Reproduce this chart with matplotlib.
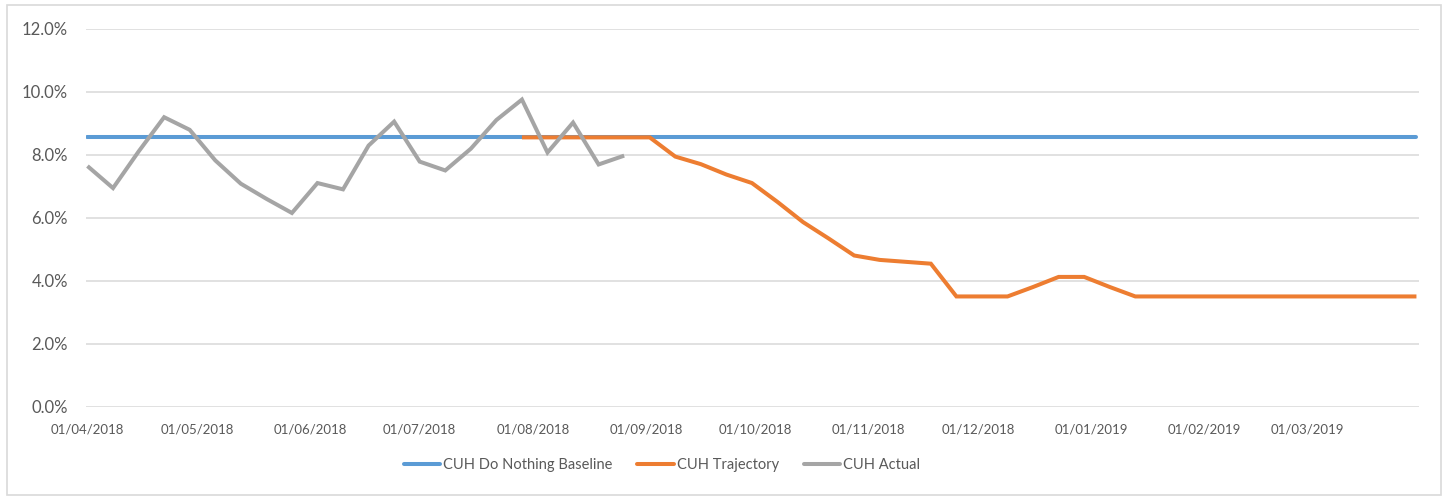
import matplotlib
matplotlib.use("Agg")
import matplotlib.pyplot as plt
import matplotlib.dates as mdates
from matplotlib.patches import Rectangle
import pandas as pd
import numpy as np

# ---- data ----
start_date = "2018-04-01"
n_weeks = 53
baseline = [8.55] * n_weeks
actual = [7.64, 6.94, 8.10, 9.19, 8.79, 7.82, 7.08, 6.60, 6.15, 7.10,
          6.90, 8.29, 9.05, 7.78, 7.50, 8.19, 9.10, 9.75, 8.07, 9.02,
          7.69, 7.97]
trajectory_start = 17
trajectory = [8.55, 8.55, 8.55, 8.55, 8.55, 8.55, 7.94, 7.70, 7.37, 7.10,
              6.50, 5.86, 5.34, 4.80, 4.66, 4.60, 4.54, 3.50, 3.50, 3.50,
              3.80, 4.12, 4.12, 3.80, 3.50, 3.50, 3.50, 3.50, 3.50, 3.50,
              3.50, 3.50, 3.50, 3.50, 3.50, 3.50]
series_names = ["CUH Do Nothing Baseline", "CUH Trajectory", "CUH Actual"]
colors = ["#5B9BD5", "#ED7D31", "#A5A5A5"]
y_ticks = [0, 2, 4, 6, 8, 10, 12]

dates = pd.date_range(start_date, periods=n_weeks, freq="7D")

plt.rcParams["font.family"] = ["Lato", "DejaVu Sans"]

fig = plt.figure(figsize=(14.5, 4.97), dpi=100)
ax = fig.add_axes([86 / 1450, 1 - 406.7 / 497, (1419 - 86) / 1450, (406.7 - 28.7) / 497])

lw = 2.9
ax.plot(dates, np.array(baseline) / 100, color=colors[0], lw=lw,
        label=series_names[0], solid_capstyle="round", zorder=3)
ax.plot(dates[trajectory_start:trajectory_start + len(trajectory)],
        np.array(trajectory) / 100, color=colors[1], lw=lw,
        label=series_names[1], solid_capstyle="butt", solid_joinstyle="miter", zorder=4)
ax.plot(dates[:len(actual)], np.array(actual) / 100, color=colors[2], lw=lw,
        label=series_names[2], solid_capstyle="butt", solid_joinstyle="miter", zorder=5)

ax.set_ylim(0, 0.12)
ax.set_yticks([v / 100 for v in y_ticks])
ax.yaxis.set_major_formatter(matplotlib.ticker.FuncFormatter(lambda v, p: f"{v*100:.1f}%"))
ax.grid(axis="y", color="#D9D9D9", lw=1.1, zorder=0)
ax.set_axisbelow(True)

x0 = dates[0] - pd.Timedelta(days=0.4)
x1 = dates[0] + pd.Timedelta(days=364.7)
ax.set_xlim(x0, x1)
ax.xaxis.set_major_locator(mdates.MonthLocator(bymonthday=1))
ax.xaxis.set_major_formatter(mdates.DateFormatter("%d/%m/%Y"))

for s in ax.spines.values():
    s.set_visible(False)
ax.tick_params(axis="both", length=0, colors="#595959")
ax.tick_params(axis="y", labelsize=12, pad=13)
ax.tick_params(axis="x", labelsize=9.5, pad=12)

leg = fig.legend(loc="center", bbox_to_anchor=(662 / 1450, 1 - 465 / 497), ncol=3,
                 frameon=False, fontsize=10.5, handlelength=2.5, handletextpad=0.2,
                 columnspacing=1.7, labelcolor="#595959")
for h in leg.get_lines():
    h.set_linewidth(lw)
    h.set_solid_capstyle("round")

fig.patches.append(Rectangle((7 / 1450, 1 - 495 / 497), 1434 / 1450, 490 / 497,
                             transform=fig.transFigure, fill=False,
                             edgecolor="#D9D9D9", lw=1.2))

fig.savefig("out.png", dpi=100, facecolor="white")
